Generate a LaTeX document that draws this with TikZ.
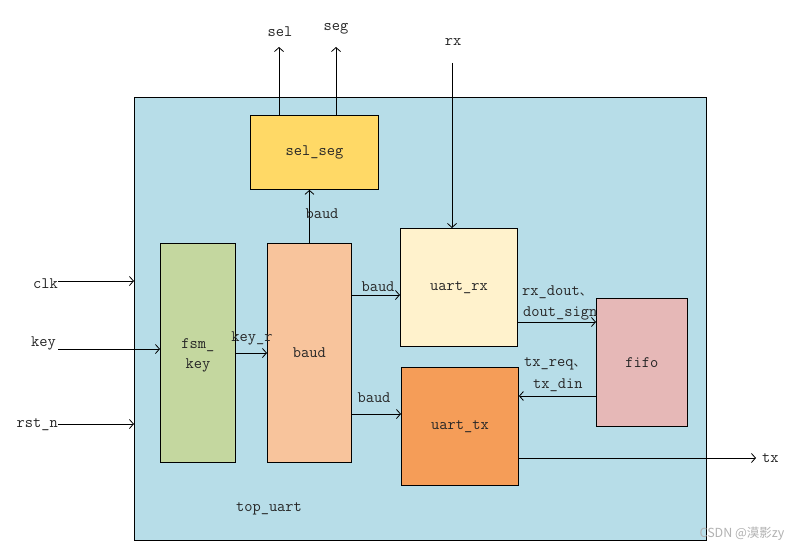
\documentclass[tikz,border=0pt]{standalone}
\usepackage{fontspec}
\newfontfamily\cjkfont{Noto Sans CJK SC}
\usetikzlibrary{arrows.meta}
\definecolor{topfill}{HTML}{B7DDE8}
\definecolor{selfill}{HTML}{FFD966}
\definecolor{fsmfill}{HTML}{C4D79F}
\definecolor{baudfill}{HTML}{F8C49C}
\definecolor{rxfill}{HTML}{FFF2CC}
\definecolor{txfill}{HTML}{F59D58}
\definecolor{fifofill}{HTML}{E6B8B7}
\newcommand{\dun}{{\cjkfont\fontsize{12}{14}\selectfont 、}}
\tikzset{
  blk/.style={draw=black, line width=0.9pt, inner sep=0pt, anchor=north west},
  sig/.style={-{Straight Barb[length=4pt,width=9pt]}, line width=0.8pt},
  lbl/.style={font=\ttfamily\fontsize{16}{18}\selectfont, inner sep=0pt, text=black!85},
}
\begin{document}
\begin{tikzpicture}[x=1pt,y=-1pt]
\useasboundingbox (0,0) rectangle (803,551);
\fill[white] (0,0) rectangle (803,551);
% outer module
\node[blk, fill=topfill, minimum width=572pt, minimum height=443pt] (top) at (134,97) {};
% blocks
\node[blk, fill=selfill, minimum width=128pt, minimum height=74pt] (sel) at (250,115) {};
\node[lbl] at (sel.center) {sel\_seg};
\node[blk, fill=fsmfill, minimum width=75pt, minimum height=219pt] (fsm) at (160,243) {};
\node[lbl, align=center] at ([yshift=-2pt]fsm.center) {fsm\_\\[2pt]key};
\node[blk, fill=baudfill, minimum width=84pt, minimum height=219pt] (baud) at (267,243) {};
\node[lbl] at (baud.center) {baud};
\node[blk, fill=rxfill, minimum width=117pt, minimum height=118pt] (rx) at (400,228) {};
\node[lbl] at (rx.center) {uart\_rx};
\node[blk, fill=txfill, minimum width=117pt, minimum height=118pt] (tx) at (401,367) {};
\node[lbl] at (tx.center) {uart\_tx};
\node[blk, fill=fifofill, minimum width=91pt, minimum height=128pt] (fifo) at (596,298) {};
\node[lbl] at (fifo.center) {fifo};
\node[lbl] (toplbl) at (269,509) {top\_uart};
% external labels and coordinates
\node[lbl] (sellbl) at (280,32) {sel};
\node[lbl] (seglbl) at (336,29) {seg};
\node[lbl] (rxlbl) at (453,42) {rx};
\node[lbl, anchor=east] (clklbl) at (58,284) {clk};
\node[lbl, anchor=east] (keylbl) at (56,343) {key};
\node[lbl, anchor=east] (rstlbl) at (58,425) {rst\_n};
\node[lbl, anchor=west] (txlbl) at (762,458) {tx};
\coordinate (selend) at (279,47);
\coordinate (segend) at (336,47);
\coordinate (rxstart) at (452,63);
\coordinate (clkend) at (134,281);
\coordinate (rstend) at (134,424);
\coordinate (txend) at (756,458);
% connectors
\draw[sig] (sel.north west) ++(29,0) coordinate (selp) -- (selend);
\draw[sig] (sel.north west) ++(86,0) coordinate (segp) -- (segend);
\draw[sig] (rxstart) -- (rxstart |- rx.north);
\draw[sig] (58,281) coordinate (clkst) -- (clkend);
\draw[sig] (58,349) coordinate (keyst) -- (keyst -| fsm.west);
\draw[sig] (58,424) coordinate (rstst) -- (rstend);
\draw[sig] (baud.north) -- (baud.north |- sel.south);
\node[lbl] at (322,214) {baud};
\draw[sig] (fsm.east |- 0,353) -- (baud.west |- 0,353);
\node[lbl] at (252,338) {key\_r};
\draw[sig] (baud.east |- 0,295) -- (rx.west |- 0,295);
\node[lbl] at (378,287) {baud};
\draw[sig] (baud.east |- 0,414) -- (tx.west |- 0,414);
\node[lbl] at (374,398) {baud};
\draw[sig] (rx.east |- 0,322) -- (fifo.west |- 0,322);
\node[lbl, anchor=west] at (522,292) {rx\_dout\dun};
\node[lbl, anchor=west] at (523,313) {dout\_sign};
\draw[sig] (fifo.west |- 0,396) -- (tx.east |- 0,396);
\node[lbl, anchor=west] at (524,364) {tx\_req\dun};
\node[lbl, anchor=west] at (533,385) {tx\_din};
\draw[sig] (tx.east |- 0,458) -- (txend);
% watermark
\node[font=\cjkfont\fontsize{12.5}{14}\selectfont, text=black!30, inner sep=0pt] (wm) at (742,534) {CSDN @漠影zy};
\end{tikzpicture}
\end{document}
